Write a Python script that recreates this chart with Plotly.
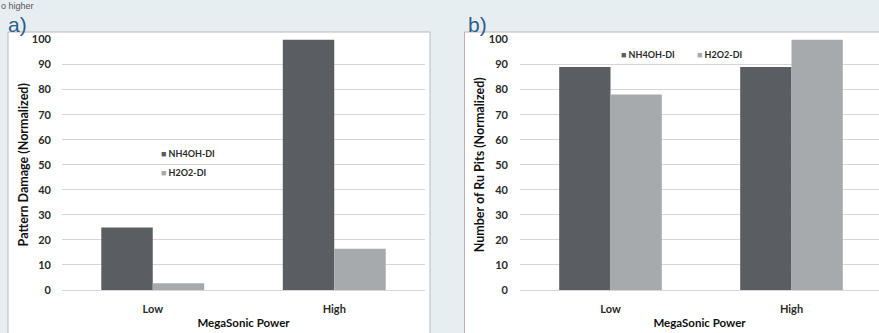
import plotly.graph_objects as go

W, H = 879, 333

# Data
categories = ["Low", "High"]
series_names = ["NH4OH-DI", "H2O2-DI"]
damage_nh4oh = [25, 100]
damage_h2o2 = [2.7, 16.5]
pits_nh4oh = [89, 89]
pits_h2o2 = [78, 100]
y_ticks = [0, 10, 20, 30, 40, 50, 60, 70, 80, 90, 100]

dark = "#5a5e62"
light = "#a7aaad"
bg = "#e7eef2"
grid = "#dcd4d4"
txt = "#2a2a2a"
font_main = "Lato"


def px(x):
    return x / W


def py(y):
    return 1 - y / H


fig = go.Figure()

# panel a
fig.add_trace(go.Bar(x=categories, y=damage_nh4oh, name=series_names[0],
                     marker=dict(color=dark, line=dict(width=0)),
                     xaxis="x", yaxis="y", showlegend=False))
fig.add_trace(go.Bar(x=categories, y=damage_h2o2, name=series_names[1],
                     marker=dict(color=light, line=dict(width=0)),
                     xaxis="x", yaxis="y", showlegend=False))
# panel b
fig.add_trace(go.Bar(x=categories, y=pits_nh4oh, name=series_names[0],
                     marker=dict(color=dark, line=dict(width=0)),
                     xaxis="x2", yaxis="y2", showlegend=False))
fig.add_trace(go.Bar(x=categories, y=pits_h2o2, name=series_names[1],
                     marker=dict(color=light, line=dict(width=0)),
                     xaxis="x2", yaxis="y2", showlegend=False))

tick_font = dict(family=font_main, size=11, color=txt, weight="bold")
xtitle_font = dict(family=font_main, size=11.5, color="#111111", weight="bold")
ytitle_font = dict(family=font_main, size=12.5, color="#111111", weight="bold")

yaxis_common = dict(range=[0, 100], tickvals=y_ticks, showgrid=True,
                    gridcolor=grid, gridwidth=1, zeroline=False,
                    showline=False, ticks="", tickfont=tick_font,
                    ticklabelstandoff=10, automargin=False,
                    fixedrange=True)
xaxis_common = dict(showgrid=False, showline=True, linecolor=grid,
                    linewidth=1, ticks="", tickfont=tick_font,
                    ticklabelstandoff=9, automargin=False, fixedrange=True)

y_dom = [py(290), py(39.5)]

fig.update_layout(
    width=W, height=H,
    margin=dict(l=0, r=0, t=0, b=0),
    paper_bgcolor=bg, plot_bgcolor="rgba(0,0,0,0)",
    barmode="group", bargap=0.433, bargroupgap=0,
    xaxis=dict(domain=[px(62), px(425)], range=[-0.5, 1.5], anchor="y",
               title=dict(text="MegaSonic Power", font=xtitle_font, standoff=4),
               **xaxis_common),
    yaxis=dict(domain=y_dom, anchor="x",
               title=dict(text="Pattern Damage (Normalized)", font=ytitle_font,
                          standoff=0),
               **yaxis_common),
    xaxis2=dict(domain=[px(520), 1.0], range=[-0.5, -0.5 + 359 / 181],
                anchor="y2",
                title=dict(text="MegaSonic Power", font=xtitle_font, standoff=4),
                **xaxis_common),
    yaxis2=dict(domain=y_dom, anchor="x2",
                title=dict(text="Number of Ru Pits (Normalized)",
                           font=ytitle_font, standoff=1),
                **yaxis_common),
)
fig.update_layout(yaxis2_ticklabelstandoff=11)

# white chart panels
fig.add_shape(type="rect", xref="paper", yref="paper",
              x0=px(8), x1=px(430), y0=py(340), y1=py(32),
              fillcolor="white", line=dict(color="#b9b9b9", width=1),
              layer="below")
fig.add_shape(type="rect", xref="paper", yref="paper",
              x0=px(464.5), x1=px(890), y0=py(340), y1=py(32),
              fillcolor="white", line=dict(color="#c8b0b0", width=1),
              layer="below")

annotations = []
# panel labels
label_font = dict(family="Liberation Sans", size=21, color="#2d5f8c")
annotations.append(dict(text="a)", x=px(7), y=py(37), xref="paper", yref="paper",
                        xanchor="left", yanchor="bottom", showarrow=False,
                        borderpad=0, font=label_font))
annotations.append(dict(text="b)", x=px(467), y=py(37), xref="paper", yref="paper",
                        xanchor="left", yanchor="bottom", showarrow=False,
                        borderpad=0, font=label_font))
# running text of the page above the figure
annotations.append(dict(text="o higher", x=px(0), y=py(0), xref="paper", yref="paper",
                        xanchor="left", yanchor="top", showarrow=False,
                        borderpad=0,
                        font=dict(family="Liberation Sans", size=9, color="#555555")))

# legends
leg_font = dict(family=font_main, size=9, color=txt, weight="bold")
cols = [dark, light]
for i, (name, c) in enumerate(zip(series_names, cols)):
    annotations.append(dict(
        text=f"<span style='color:{c}'>■</span> {name}",
        x=px(159), y=py(153 + 20 * i), xref="paper", yref="paper",
        xanchor="left", yanchor="middle", showarrow=False, font=leg_font))
leg_x = [619, 695]
for i, (name, c) in enumerate(zip(series_names, cols)):
    annotations.append(dict(
        text=f"<span style='color:{c}'>■</span> {name}",
        x=px(leg_x[i]), y=py(55), xref="paper", yref="paper",
        xanchor="left", yanchor="middle", showarrow=False, font=leg_font))

fig.update_layout(annotations=annotations)

fig.write_html("out.html")
